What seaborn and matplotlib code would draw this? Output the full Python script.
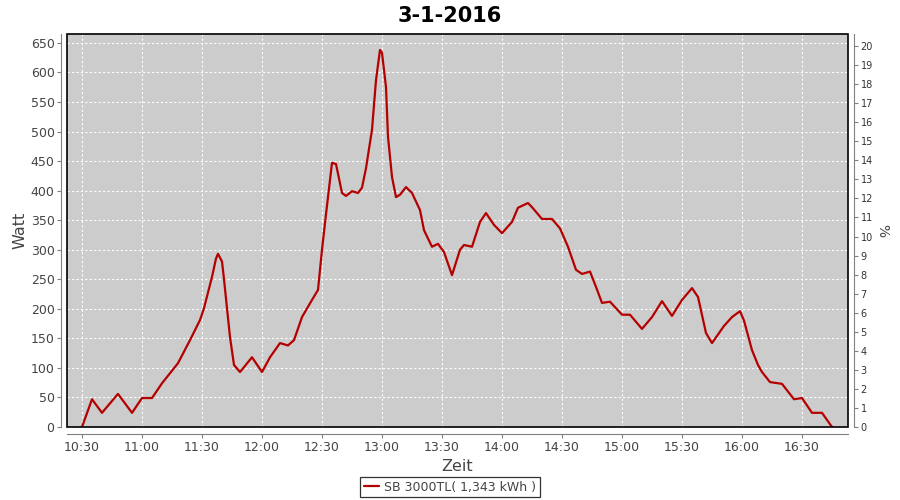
import matplotlib
matplotlib.use("Agg")
import matplotlib.pyplot as plt
import matplotlib.dates as mdates
import matplotlib.patches as mpatches
import seaborn as sns
import pandas as pd

times = ["10:30", "10:35", "10:40", "10:48", "10:55", "11:00", "11:05", "11:10", "11:18", "11:24",
         "11:29", "11:31", "11:35", "11:37", "11:38", "11:40", "11:41", "11:44", "11:46", "11:49",
         "11:55", "12:00",
         "12:04", "12:09", "12:13", "12:16", "12:20", "12:25", "12:28", "12:30", "12:32", "12:35",
         "12:37", "12:40", "12:42", "12:45", "12:48", "12:50", "12:52", "12:55", "12:57", "12:59",
         "13:00", "13:02", "13:03", "13:05", "13:07", "13:09", "13:12", "13:15", "13:19", "13:21",
         "13:25", "13:28", "13:31", "13:35", "13:39", "13:41", "13:45", "13:49", "13:52", "13:56",
         "14:00", "14:05", "14:08", "14:13", "14:15", "14:20", "14:25", "14:29", "14:33", "14:37",
         "14:40", "14:44", "14:47", "14:50", "14:54", "15:00", "15:04", "15:10", "15:15", "15:20",
         "15:25", "15:30", "15:35", "15:38", "15:42", "15:45", "15:51", "15:55", "15:59", "16:01",
         "16:05", "16:08", "16:10", "16:14", "16:20", "16:26", "16:30", "16:35", "16:40", "16:45"]
watt = [0, 47, 24, 56, 24, 49, 49, 74, 108, 147,
        181, 201, 254, 285, 293, 280, 250, 152, 105, 93,
        118, 93,
        118, 142, 138, 147, 186, 215, 232, 300, 360, 447,
        445, 396, 391, 399, 396, 405, 438, 503, 587, 638,
        633, 575, 491, 423, 389, 393, 406, 396, 367, 333,
        305, 310, 296, 257, 300, 308, 305, 347, 362, 342,
        328, 347, 371, 379, 372, 352, 352, 336, 305, 266,
        259, 263, 237, 210, 212, 190, 190, 166, 186, 213,
        188, 215, 235, 220, 159, 142, 171, 186, 196, 180,
        130, 105, 93, 76, 73, 47, 49, 24, 24, 0]

title = "3-1-2016"
series_label = "SB 3000TL( 1,343 kWh )"
left_label = "Watt"
right_label = "%"
x_label = "Zeit"

df = pd.DataFrame({
    "Zeit": pd.to_datetime(["2016-01-03 " + t for t in times]),
    "Watt": watt,
    "Serie": series_label,
})

sns.set_style("white")
plt.rcParams["font.family"] = ["DejaVu Sans"]

fig = plt.figure(figsize=(9, 5), dpi=100)
ax = fig.add_axes([67 / 900, 1 - 427 / 500, (848 - 67) / 900, (427 - 34) / 500])
ax.set_facecolor("#CCCCCC")

sns.lineplot(data=df, x="Zeit", y="Watt", hue="Serie", palette=["#B40000"],
             linewidth=1.6, ax=ax, legend=True, zorder=3)

x0 = pd.Timestamp("2016-01-03 10:22:30")
x1 = pd.Timestamp("2016-01-03 16:53:00")
ax.set_xlim(x0, x1)
ax.set_ylim(0, 665)
ax.set_yticks(range(0, 651, 50))
ax.xaxis.set_major_locator(mdates.MinuteLocator(byminute=[0, 30]))
ax.xaxis.set_major_formatter(mdates.DateFormatter("%H:%M"))

ax.grid(True, color="white", linestyle=(0, (2, 2)), linewidth=0.8)
ax.set_axisbelow(True)

ax2 = ax.twinx()
ax2.set_ylim(0, 20.63)
ax2.set_yticks(range(0, 21))

for a in (ax, ax2):
    for s in a.spines.values():
        s.set_visible(False)

ax.spines["left"].set_visible(True)
ax.spines["left"].set_position(("outward", 4))
ax.spines["left"].set_color("#808080")
ax.spines["bottom"].set_visible(True)
ax.spines["bottom"].set_position(("outward", 5))
ax.spines["bottom"].set_color("#808080")
ax2.spines["right"].set_visible(True)
ax2.spines["right"].set_position(("outward", 4))
ax2.spines["right"].set_color("#808080")

# black plot outline
ax.add_patch(mpatches.Rectangle((0, 0), 1, 1, transform=ax.transAxes, fill=False,
                                edgecolor="black", linewidth=1.2, zorder=5, clip_on=False))

ax.tick_params(axis="both", direction="out", length=3, width=0.8, color="#808080",
               labelsize=9, labelcolor="#444444", pad=2, left=True, bottom=True)
ax2.tick_params(axis="y", direction="out", length=3, width=0.8, color="#808080",
                labelsize=7, labelcolor="#333333", pad=2, right=True)

ax.set_xlabel(x_label, fontsize=11.5, color="#444444", labelpad=4)
ax.set_ylabel(left_label, fontsize=11.5, color="#444444", labelpad=2)
ax2.set_ylabel(right_label, fontsize=10, color="#444444", rotation=-90, labelpad=12)

fig.suptitle(title, fontsize=15, fontweight="bold", color="black", y=0.988)

handles, labels = ax.get_legend_handles_labels()
ax.get_legend().remove()
leg = fig.legend(handles, labels, loc="center", bbox_to_anchor=(450 / 900, 1 - 487 / 500),
                 frameon=True, fancybox=False, edgecolor="black", fontsize=9,
                 handlelength=1.2, handletextpad=0.4, borderpad=0.3, borderaxespad=0)
leg.get_frame().set_linewidth(0.9)
for t in leg.get_texts():
    t.set_color("#444444")

fig.savefig("out.png", dpi=100, facecolor="white")
